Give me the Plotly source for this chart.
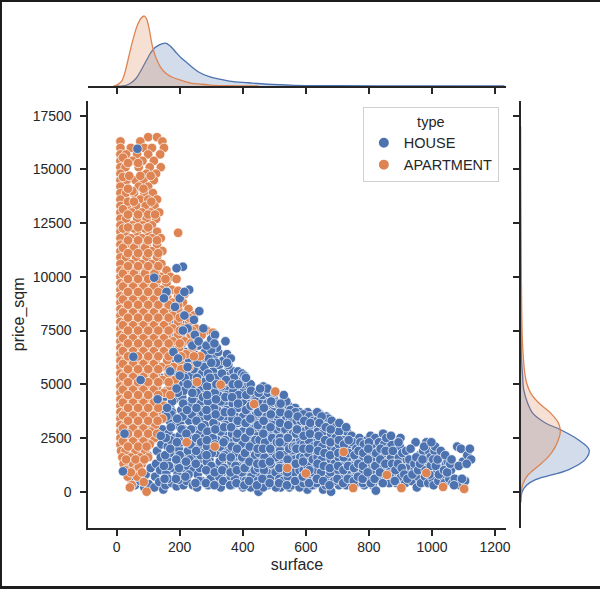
import plotly.graph_objects as go

# ---------------- data ----------------
x_tick_values = [0, 200, 400, 600, 800, 1000, 1200]
x_tick_labels = ["0", "200", "400", "600", "800", "1000", "1200"]
y_tick_values = [0, 2500, 5000, 7500, 10000, 12500, 15000, 17500]
y_tick_labels = ["0", "2500", "5000", "7500", "10000", "12500", "15000", "17500"]

# HOUSE points (surface, price_sqm) drawn beneath the apartments
house_points = [
    (18, 2700), (22, 950), (35, 1100), (45, 600), (52, 1500), (58, 300), (62, 900), (68, 2000), (75, 500),
    (80, 1300), (88, 200), (92, 800), (98, 1700), (102, 350), (108, 1100), (112, 2400), (60, 3300), (95, 3000),
    (105, 4200),
    (120, 200), (122, 700), (125, 1300), (128, 1900), (130, 2600), (132, 3300), (135, 450), (138, 1000),
    (140, 1600), (142, 2200), (145, 2900), (148, 3600), (150, 4400), (126, 4800), (140, 5300), (135, 7600),
    (145, 6700), (148, 100),
    (155, 300), (158, 900), (160, 1500), (162, 2100), (165, 2700), (168, 3300), (170, 3900), (172, 4500),
    (175, 5100), (178, 5800), (165, 7300), (182, 7900), (175, 400), (178, 1100), (180, 1800),
    (183, 2500), (185, 3100), (176, 3700), (184, 4300), (186, 4900),
    (190, 250), (193, 800), (195, 1400), (197, 2000), (200, 2600), (202, 3200), (205, 3800), (208, 4400),
    (210, 5000), (212, 5600), (205, 6800), (212, 300), (214, 1100),
    (216, 1700), (218, 2300), (212, 2900), (215, 3500), (218, 4100),
    (222, 500), (224, 1200), (226, 1900), (228, 2600), (230, 3300), (232, 4000), (234, 4700), (236, 5400),
    (238, 6100), (242, 300), (244, 1000), (246, 1600), (240, 2200),
    (243, 2900), (245, 3600), (247, 4300), (248, 5000), (250, 5700),
    (255, 200), (257, 800), (259, 1400), (261, 2000), (263, 2700), (265, 3400), (267, 4100), (269, 4800),
    (271, 5500), (273, 6200), (270, 500), (272, 1100), (276, 1800), (278, 2500),
    (280, 3100), (277, 3800), (280, 4500), (282, 5200), (284, 5900),
    (290, 300), (292, 900), (294, 1500), (296, 2100), (298, 2800), (300, 3500), (302, 4200), (304, 4900),
    (306, 5600), (308, 6300), (315, 400), (317, 1100), (318, 1800), (320, 2400),
    (316, 3100), (319, 3800), (322, 4500), (320, 5200), (325, 5900), (322, 6500),
    (330, 200), (332, 800), (334, 1400), (336, 2000), (338, 2700), (340, 3400), (342, 4100), (344, 4800),
    (346, 5500), (338, 6100), (350, 6400), (348, 500), (352, 1100), (354, 1800), (356, 2400), (358, 3100),
    (352, 3800), (356, 4400), (360, 5100), (355, 5800), (362, 6200), (345, 7000),
    (365, 300), (368, 900), (370, 1500), (372, 2100), (374, 2800), (376, 3500), (378, 4200), (380, 4800),
    (382, 5300), (385, 600), (387, 1200), (389, 1900), (391, 2500), (393, 3200), (388, 3900), (392, 4500),
    (395, 5200), (370, 5600), (385, 5600),
    (400, 200), (402, 900), (404, 1500), (406, 2200), (408, 2900), (410, 3500), (412, 4100), (404, 4700),
    (398, 5500), (405, 5400), (415, 400), (418, 1100), (420, 1700), (422, 2400), (424, 3000), (426, 3600),
    (420, 4200), (428, 4500), (430, 700), (432, 1300), (434, 2000), (428, 2700), (436, 3300), (432, 3900),
    (440, 200), (442, 800), (444, 1500), (446, 2100), (448, 2700), (450, 3300), (452, 3900), (454, 4400),
    (450, 0), (456, 500), (458, 1100), (460, 1800), (462, 2400), (464, 3000), (466, 3600), (460, 4200),
    (468, 4700), (470, 800), (472, 1400), (474, 2100), (476, 2700), (470, 3300), (478, 3900), (475, 4400),
    (480, 300), (482, 1000), (484, 1600), (486, 2200), (488, 2800), (490, 3400), (485, 4000), (492, 4500),
    (495, 600), (497, 1200), (499, 1900), (501, 2500), (503, 3100), (500, 3700), (505, 4200), (508, 300),
    (510, 900), (512, 1500), (506, 2100), (510, 2700), (512, 3300), (515, 3900),
    (520, 200), (522, 800), (524, 1400), (526, 2000), (528, 2600), (530, 3200), (525, 3700), (532, 4300),
    (535, 500), (537, 1100), (539, 1700), (541, 2300), (543, 2900), (540, 3500), (545, 4000), (548, 200),
    (550, 900), (552, 1500), (546, 2100), (550, 2700), (553, 3200),
    (556, 600), (558, 1200), (560, 1800), (562, 2400), (564, 3000), (560, 3600), (566, 3900), (570, 300),
    (572, 900), (574, 1500), (576, 2100), (578, 2700), (574, 3300), (580, 3700), (585, 600), (587, 1200),
    (589, 1800), (582, 2400), (590, 3000), (588, 3500),
    (595, 300), (598, 900), (600, 1500), (602, 2100), (604, 2700), (600, 3200), (606, 3700), (605, 100),
    (612, 600), (614, 1200), (616, 1800), (618, 2400), (620, 3000), (615, 3500), (625, 300), (627, 900),
    (629, 1500), (631, 2100), (633, 2700), (630, 3400), (628, 3600),
    (640, 600), (642, 1200), (644, 1800), (646, 2400), (640, 3000), (648, 3400), (645, 3600), (650, 300),
    (655, 100), (656, 900), (658, 1500), (660, 2100), (662, 2700), (658, 3200), (665, 3500), (668, 600),
    (670, 1200), (672, 1800), (670, 2400), (675, 3000), (672, 3400),
    (680, 0), (682, 400), (684, 1000), (686, 1600), (688, 2200), (690, 2800), (685, 3200), (695, 700),
    (697, 1300), (699, 1900), (701, 2500), (700, 3100), (705, 300), (708, 900), (710, 1500), (712, 2100),
    (708, 2700), (715, 2900),
    (720, 600), (722, 1200), (724, 1800), (726, 2400), (730, 2800), (735, 300), (737, 900), (739, 1500),
    (741, 2100), (745, 2600), (748, 700), (750, 1300), (752, 1900), (755, 2300),
    (762, 400), (764, 1000), (766, 1600), (768, 2200), (770, 2500), (775, 700), (777, 1300), (779, 1900),
    (785, 300), (787, 900), (789, 1500), (791, 2100), (795, 2400), (798, 600), (800, 1200), (802, 1800),
    (805, 2600),
    (812, 300), (814, 900), (816, 1500), (818, 2100), (820, 2500), (822, 50), (825, 700), (828, 1300),
    (830, 1900), (832, 2300), (838, 500), (840, 1100), (842, 1700), (845, 2700), (848, 2200), (850, 800),
    (860, 1400), (862, 2000), (865, 400), (868, 1000), (870, 1600), (872, 2200), (878, 700), (880, 1300),
    (885, 1900), (888, 400), (890, 1000), (895, 1600), (898, 2100), (900, 2500), (902, 700),
    (910, 1200), (915, 400), (920, 1500), (925, 900), (930, 1200), (935, 500), (940, 1500), (945, 1000),
    (948, 2300), (952, 200), (955, 700), (958, 1300), (960, 1700),
    (965, 400), (968, 1000), (972, 1900), (975, 1400), (978, 700), (982, 2300), (985, 1100), (988, 400),
    (990, 1900), (995, 1600), (1000, 1200), (1002, 600), (1005, 300), (1008, 1900), (1010, 2100),
    (1015, 900), (1020, 500), (1025, 1300), (1030, 1100), (1035, 700), (1040, 400), (1045, 1300),
    (1050, 1400), (1055, 600), (1060, 1000), (1065, 400), (1072, 600), (1080, 2100), (1088, 300),
    (1092, 2000), (1098, 1400), (1105, 500), (1112, 1700), (1120, 2000), (1124, 1500),
]

# more HOUSE points filling the dense part of the cloud
house_fill_points = [
    (163, 600), (166, 1200), (168, 1800), (170, 2400), (172, 3000), (174, 3600), (176, 4200), (178, 4800),
    (180, 5400), (168, 6000), (172, 6800), (178, 7600), (190, 7300), (188, 8200), (185, 6200),
    (196, 550), (198, 1100), (200, 1700), (203, 2300), (206, 2900), (209, 3500), (211, 4100), (213, 4700),
    (216, 5300), (218, 5900), (220, 6500), (208, 7100), (218, 7800), (205, 8300),
    (228, 800), (231, 1500), (234, 2200), (236, 2900), (238, 3600), (240, 4300), (242, 5000), (244, 5700),
    (246, 6400), (250, 7000), (235, 7900), (252, 2500), (253, 3300), (254, 4600),
    (262, 500), (264, 1100), (266, 1700), (268, 2300), (270, 3000), (272, 3700), (274, 4400), (276, 5100),
    (278, 5800), (280, 6500), (268, 7300), (286, 1400), (287, 2100), (288, 2800), (289, 3500), (290, 4200),
    (287, 4900), (290, 5500), (292, 6200),
    (298, 600), (300, 1200), (302, 1800), (305, 2500), (307, 3200), (309, 3900), (311, 4600), (313, 5300),
    (315, 6000), (318, 6700), (325, 700), (327, 1400), (328, 2100), (330, 2800), (328, 3500), (330, 4200),
    (332, 4900), (334, 5500),
    (338, 500), (340, 1100), (342, 1700), (344, 2400), (346, 3100), (348, 3800), (350, 4500), (352, 5200),
    (354, 5900), (362, 700), (364, 1400), (365, 2100), (366, 2700), (367, 3400), (368, 4100), (370, 4700),
    (372, 5300),
    (375, 600), (377, 1200), (379, 1800), (381, 2500), (383, 3200), (385, 3900), (387, 4500), (396, 300),
    (397, 900), (398, 1600), (399, 2200), (400, 2800), (401, 3500), (402, 4100), (400, 5000),
    (409, 500), (411, 1200), (413, 1900), (415, 2600), (417, 3300), (419, 3900), (414, 4500), (418, 5000),
    (425, 200), (427, 700), (438, 1000), (439, 1700), (440, 2400), (441, 3000), (442, 3600), (440, 4200),
    (425, 5000), (410, 5300),
    (447, 500), (449, 1100), (451, 1800), (453, 2400), (455, 3000), (457, 3600), (459, 4100), (462, 4500),
    (465, 200), (467, 1000), (469, 1600), (471, 2300), (473, 2900), (475, 3500), (477, 4100), (480, 4600),
    (465, 4900), (478, 4800),
    (487, 600), (489, 1300), (491, 1900), (493, 2500), (495, 3100), (497, 3700), (499, 4300), (502, 4600),
    (505, 200), (504, 900), (506, 1600), (508, 2300), (509, 2900), (511, 3600), (513, 4100), (516, 600),
    (518, 1200), (518, 1900), (518, 2500), (519, 3000),
    (527, 500), (529, 1100), (531, 1700), (533, 2300), (535, 2900), (537, 3500), (538, 4200), (530, 4500),
    (543, 700), (545, 1400), (547, 2000), (548, 2600), (549, 3300), (551, 3800), (555, 300), (557, 1500),
    (559, 2100), (559, 2700), (557, 3300),
    (563, 900), (565, 1500), (567, 2100), (569, 2700), (571, 3300), (567, 3700), (580, 200), (580, 1000),
    (582, 1600), (583, 2200), (584, 2800), (584, 3300), (592, 400), (593, 1000), (594, 1600), (594, 2200),
    (595, 2800), (592, 3600),
    (603, 600), (605, 1200), (607, 1800), (609, 2400), (610, 3000), (611, 3500), (620, 300), (621, 900),
    (622, 1500), (624, 2100), (625, 2700), (623, 3300), (634, 400), (636, 1000), (637, 1600), (638, 2200),
    (638, 2800), (636, 3300), (636, 3700), (650, 3500),
    (648, 900), (650, 1500), (652, 2100), (654, 2700), (652, 3100), (663, 300), (664, 1200), (666, 1800),
    (667, 2400), (668, 3000), (677, 400), (678, 900), (679, 1500), (680, 2100), (680, 2700), (682, 3300),
    (690, 500), (691, 1300), (693, 1900), (694, 2500), (694, 3000), (703, 1000), (704, 1600), (705, 2200),
    (705, 2800), (714, 600), (715, 1200), (716, 1800), (717, 2400), (706, 3200),
    (728, 300), (729, 900), (730, 1500), (732, 2100), (728, 3000), (742, 600), (744, 1200), (745, 1800),
    (748, 2300), (757, 400), (758, 1000), (759, 1600), (760, 2000),
    (770, 700), (771, 1300), (772, 1900), (773, 2300), (781, 400), (782, 1000), (783, 1600), (784, 2200),
    (792, 600), (793, 1200), (794, 1800), (800, 2300), (806, 400), (808, 1000), (808, 1500),
    (818, 600), (820, 1200), (822, 1800), (835, 900), (836, 1500), (837, 2000), (844, 400), (852, 1300),
    (853, 1900), (855, 2500),
    (866, 800), (870, 2600), (874, 1300), (876, 1900), (882, 500), (884, 1000), (892, 1300), (894, 2300),
    (904, 1100), (906, 1800),
    (912, 800), (918, 1900), (922, 600), (928, 1500), (932, 2000), (938, 800), (944, 1300), (950, 1600),
    (956, 1000), (962, 1300),
    (970, 1500), (975, 2100), (980, 1000), (992, 800), (996, 1200), (998, 2300), (1004, 1500), (1012, 1200),
    (1018, 1500), (1022, 800), (1028, 1900), (1038, 1000), (1042, 1700), (1048, 900), (1058, 1300),
    (1062, 1500), (1070, 300), (1085, 1200), (1095, 600), (1110, 1300),
]

# a third set of HOUSE points in the densest band
house_core_points = [
    (152, 600), (154, 1700), (156, 2500), (158, 3500), (160, 4700), (164, 5500), (188, 600), (189, 1500),
    (191, 2300), (192, 3400), (194, 4600), (196, 5700), (199, 6600), (187, 7000),
    (218, 700), (220, 1400), (221, 2700), (223, 3800), (225, 5000), (227, 6200), (229, 7000), (250, 400),
    (251, 1300), (252, 1900), (253, 3900), (255, 5300), (256, 6000), (258, 6800),
    (283, 400), (284, 1000), (285, 1700), (286, 2400), (285, 3800), (287, 4500), (296, 5300), (300, 6000),
    (300, 6600), (310, 300), (311, 900), (312, 2200), (313, 2900), (314, 3600), (315, 4300), (316, 5000),
    (305, 7200),
    (335, 1000), (337, 1600), (339, 2300), (341, 3000), (343, 3700), (345, 4400), (347, 5200), (350, 6000),
    (360, 300), (361, 900), (362, 1600), (363, 3000), (364, 3700), (366, 4400), (368, 5000), (380, 400),
    (381, 1000), (382, 2000), (383, 2700), (384, 3300), (385, 4100), (386, 5000),
    (405, 300), (406, 1100), (407, 1800), (408, 2500), (409, 3200), (410, 3800), (411, 4500), (420, 500),
    (421, 1400), (422, 2100), (423, 2800), (424, 3400), (425, 4000), (426, 4700), (445, 300), (446, 1300),
    (447, 2000), (448, 3100), (449, 3700), (450, 4600), (455, 4800), (462, 600), (463, 1300), (464, 2000),
    (465, 2700), (466, 3300), (467, 3900),
    (485, 400), (486, 1400), (487, 2000), (488, 3000), (489, 3600), (490, 4200), (515, 400), (516, 1100),
    (517, 1700), (517, 2300), (518, 3200), (519, 3700), (520, 4100), (540, 300), (541, 900), (542, 1500),
    (543, 2500), (544, 3100), (545, 3600),
    (566, 500), (568, 1300), (570, 2000), (572, 2900), (574, 3500), (590, 700), (591, 1400), (592, 2000),
    (593, 2600), (595, 3300), (610, 400), (611, 1000), (612, 2000), (613, 2700), (614, 3200), (635, 600),
    (637, 1300), (639, 1900), (641, 2600), (643, 3200), (655, 500), (657, 1200), (659, 1800), (661, 2400),
    (663, 3000), (675, 300), (676, 1100), (677, 1700), (678, 2300), (679, 2900),
    (700, 600), (702, 1200), (703, 1800), (705, 2400), (718, 400), (719, 1000), (720, 1600), (721, 2200),
    (733, 600), (734, 1200), (735, 1800), (736, 2400), (752, 500), (753, 1100), (754, 1700), (765, 700),
    (766, 1300), (767, 1900), (780, 600), (781, 1200), (782, 1800), (796, 900), (797, 1500), (798, 2000),
]

# HOUSE points that sit on top of the apartment cloud
house_front_points = [
    (66, 15960), (119, 9960), (210, 10470), (190, 10400), (53, 6280), (76, 5200), (158, 9300), (230, 9400),
    (200, 9000), (215, 9300), (225, 7600), (245, 8000), (240, 6800), (248, 7300), (260, 7000), (262, 8400),
    (275, 7600), (285, 6800), (300, 7100), (312, 7300), (310, 6900), (180, 6500), (195, 6200), (210, 7500),
    (215, 8200), (185, 8600), (150, 9000), (170, 5600), (190, 4800), (160, 3900), (140, 2600), (25, 2700),
    (20, 950), (130, 4300), (200, 5400), (225, 5800), (240, 4600), (150, 1200), (170, 2000),
]

# APARTMENT points (surface, price_sqm)
apartment_points = [
    (100, 16500), (128, 16500),
    (12, 16300), (75, 16300), (145, 16300),
    (12, 16000), (45, 16000), (88, 16000), (112, 16000), (150, 16000),
    (12, 15700), (30, 15700), (65, 15700), (100, 15700), (138, 15700),
    (12, 15400), (50, 15400), (82, 15400), (118, 15400),
    (12, 15100), (28, 15100), (70, 15100), (105, 15100), (140, 15100),
    (12, 14800), (95, 14800), (125, 14800),
    (12, 14500), (32, 14500), (60, 14500), (85, 14500), (118, 14500),
    (12, 14200), (70, 14200), (100, 14200),
    (12, 13900), (30, 13900), (55, 13900), (88, 13900), (115, 13900),
    (12, 13600), (75, 13600), (100, 13600), (128, 13600),
    (12, 13300), (35, 13300), (62, 13300), (92, 13300), (120, 13300),
    (12, 13000), (48, 13000), (80, 13000), (108, 13000), (135, 13000),
    (12, 12700), (30, 12700), (65, 12700), (95, 12700), (125, 12700),
    (12, 12400), (50, 12400), (82, 12400), (112, 12400),
    (12, 12100), (28, 12100), (65, 12100), (98, 12100), (128, 12100), (195, 12050),
    (12, 11800), (45, 11800), (80, 11800), (112, 11800), (140, 11800),
    (12, 11500), (30, 11500), (62, 11500), (95, 11500), (128, 11500),
    (12, 11200), (48, 11200), (80, 11200), (110, 11200), (145, 11200),
    (12, 10900), (30, 10900), (62, 10900), (95, 10900), (128, 10900),
    (12, 10600), (45, 10600), (78, 10600), (110, 10600), (142, 10600),
    (12, 10300), (28, 10300), (60, 10300), (92, 10300), (125, 10300), (158, 10300),
    (12, 10000), (45, 10000), (78, 10000), (110, 10000), (140, 10000), (170, 10000),
    (12, 9700), (28, 9700), (60, 9700), (92, 9700), (125, 9700), (158, 9700), (190, 9900),
    (12, 9400), (45, 9400), (78, 9400), (110, 9400), (142, 9400), (175, 9400), (215, 9200),
    (12, 9100), (28, 9100), (60, 9100), (92, 9100), (125, 9100), (160, 9100), (195, 9100),
    (12, 8800), (45, 8800), (78, 8800), (110, 8800), (142, 8800), (178, 8800), (210, 8800),
    (12, 8500), (28, 8500), (60, 8500), (92, 8500), (125, 8500), (160, 8500), (195, 8500), (228, 8500),
    (12, 8200), (45, 8200), (78, 8200), (110, 8200), (142, 8200), (178, 8200), (212, 8200), (245, 8200),
    (12, 7900), (28, 7900), (60, 7900), (92, 7900), (125, 7900), (160, 7900), (195, 7900), (230, 7900),
    (12, 7600), (45, 7600), (78, 7600), (110, 7600), (142, 7600), (178, 7600), (212, 7600), (250, 7600),
    (285, 7500),
    (12, 7300), (28, 7300), (60, 7300), (92, 7300), (125, 7300), (160, 7300), (195, 7300), (235, 7300),
    (270, 7300), (305, 7400),
    (12, 7000), (45, 7000), (78, 7000), (110, 7000), (142, 7000), (178, 7000), (215, 7000), (255, 7000),
    (12, 6700), (28, 6700), (60, 6700), (92, 6700), (125, 6700), (160, 6700), (198, 6700), (240, 6700),
    (12, 6400), (45, 6400), (78, 6400), (110, 6400), (142, 6400), (178, 6400), (220, 6400), (265, 6300),
    (12, 6100), (28, 6100), (60, 6100), (92, 6100), (125, 6100), (160, 6100), (200, 6100),
    (12, 5800), (45, 5800), (78, 5800), (110, 5800), (142, 5800), (180, 5800), (230, 5800),
    (12, 5500), (28, 5500), (60, 5500), (92, 5500), (125, 5500), (165, 5500),
    (12, 5200), (45, 5200), (78, 5200), (110, 5200), (145, 5200), (185, 5200), (255, 5100),
    (12, 4900), (28, 4900), (60, 4900), (92, 4900), (128, 4900), (170, 4900), (330, 4980),
    (12, 4600), (45, 4600), (78, 4600), (110, 4600), (150, 4600), (503, 4660),
    (12, 4300), (28, 4300), (60, 4300), (92, 4300), (130, 4300),
    (12, 4000), (45, 4000), (78, 4000), (112, 4000), (150, 4000), (436, 4080),
    (12, 3700), (28, 3700), (60, 3700), (92, 3700), (128, 3700),
    (12, 3400), (45, 3400), (78, 3400), (110, 3400), (145, 3400),
    (12, 3100), (28, 3100), (60, 3100), (92, 3100), (122, 3100),
    (12, 2800), (45, 2800), (78, 2800), (108, 2800),
    (12, 2500), (28, 2500), (60, 2500), (92, 2500), (120, 2500),
    (12, 2200), (45, 2200), (78, 2200), (105, 2200), (222, 2300),
    (14, 1900), (28, 1900), (60, 1900), (90, 1900), (311, 2100),
    (18, 1600), (45, 1600), (75, 1600), (100, 1600),
    (22, 1300), (52, 1300), (80, 1300),
    (28, 1000), (60, 1000), (70, 1150),
    (35, 700), (65, 700),
    (48, 310), (86, 450), (42, 200), (95, 0),
    (541, 1100), (600, 850), (720, 1850), (750, 170), (857, 780), (903, 170), (982, 870), (1035, 220),
    (1102, 130),
    # staggered fill rows inside the dense core
    (20, 10150), (55, 10150), (90, 10150), (120, 10150),
    (20, 9550), (52, 9550), (85, 9550), (118, 9550),
    (20, 8950), (52, 8950), (85, 8950), (118, 8950), (150, 8950),
    (20, 8350), (52, 8350), (85, 8350), (118, 8350), (150, 8350),
    (20, 7750), (52, 7750), (85, 7750), (118, 7750), (150, 7750),
    (20, 7150), (52, 7150), (85, 7150), (118, 7150), (150, 7150),
    (20, 6550), (52, 6550), (85, 6550), (118, 6550), (150, 6550),
    (20, 5950), (52, 5950), (85, 5950), (118, 5950),
    (20, 5350), (52, 5350), (85, 5350), (118, 5350),
    (20, 4750), (52, 4750), (85, 4750), (118, 4750),
    (20, 4150), (52, 4150), (85, 4150), (118, 4150),
    (20, 3550), (52, 3550), (85, 3550), (118, 3550),
    (20, 2950), (52, 2950), (85, 2950),
    (20, 2350), (52, 2350), (85, 2350),
    (20, 11350), (55, 11350), (90, 11350),
    (20, 12250), (55, 12250), (90, 12250),
    (20, 13150), (50, 14000), (20, 14650), (20, 15550),
    # a further layer of the dense core
    (36, 15300), (68, 15300), (40, 14700), (75, 14700), (108, 14700), (36, 14100), (85, 14100),
    (36, 13500), (55, 13500), (110, 13500), (36, 12900), (68, 12900), (100, 12900), (122, 12900),
    (36, 12300), (68, 12300), (100, 12300), (36, 11700), (68, 11700), (100, 11700), (128, 11700),
    (36, 11100), (68, 11100), (100, 11100), (132, 11100), (36, 10500), (68, 10500), (100, 10500), (132, 10500),
    (36, 9900), (68, 9900), (100, 9900), (132, 9900), (155, 9900),
    (36, 9300), (68, 9300), (100, 9300), (132, 9300), (160, 9300), (195, 9350),
    (36, 8700), (68, 8700), (100, 8700), (132, 8700), (165, 8700), (195, 8700),
    (36, 8100), (68, 8100), (100, 8100), (132, 8100), (165, 8100), (200, 8100), (230, 8100),
    (36, 7500), (68, 7500), (100, 7500), (132, 7500), (165, 7500), (200, 7500), (240, 7500),
    (36, 6900), (68, 6900), (100, 6900), (132, 6900), (165, 6900), (200, 6900), (235, 6900),
    (36, 6300), (68, 6300), (100, 6300), (132, 6300), (165, 6300), (205, 6300), (245, 6300),
    (36, 5700), (68, 5700), (100, 5700), (132, 5700), (165, 5700), (205, 5700),
    (36, 5100), (68, 5100), (100, 5100), (132, 5100), (165, 5100),
    (36, 4500), (68, 4500), (100, 4500), (132, 4500), (170, 4500),
    (36, 3900), (68, 3900), (100, 3900), (132, 3900),
    (36, 3300), (68, 3300), (100, 3300), (130, 3300),
    (36, 2700), (68, 2700), (100, 2700), (128, 2700),
    (36, 2100), (68, 2100), (95, 2100),
    (30, 1500), (60, 1500), (88, 1500),
    (45, 900), (80, 900),
]

# marginal KDE curves, density in units of 1e-5
house_surface_grid = [0, 20, 40, 60, 78, 95, 114, 135, 155, 170, 187, 205, 224, 260, 296, 357, 418, 477, 562,
                      700, 900, 1100, 1230]
house_surface_density = [0, 0, 15, 52, 119, 193, 267, 305, 319, 297, 253, 208, 171, 104, 67, 37, 24, 13, 5,
                         2, 1, 0.5, 0.2]
apartment_surface_grid = [-10, 0, 10, 18, 30, 41, 55, 66, 78, 88, 95, 102, 114, 125, 139, 155, 175, 200, 235,
                          270, 296, 350, 450]
apartment_surface_density = [0, 7, 22, 45, 134, 245, 372, 453, 505, 520, 498, 438, 290, 208, 141, 97, 67, 45,
                             22, 13, 7, 3, 0.7]

house_price_grid = [-500, 0, 300, 560, 1020, 1490, 1950, 2420, 2890, 3200, 3670, 4140, 4750, 5500, 6300, 8000,
                    10000]
house_price_density = [0, 0.63, 2.5, 6.3, 20.2, 27.3, 29.0, 24.4, 16.8, 10.5, 5.0, 2.9, 1.3, 0.76, 0.3, 0.13,
                       0.04]
apartment_price_grid = [-500, 0, 330, 745, 1160, 1630, 2100, 2560, 2800, 3200, 3670, 4140, 4600, 5070, 5540,
                        6300, 7070, 8600, 10900, 12500, 14000, 15600, 17000]
apartment_price_density = [0, 0.21, 0.84, 2.9, 7.1, 11.8, 14.7, 16.4, 16.8, 16.0, 12.6, 7.6, 4.2, 2.5, 1.7, 1.1,
                           0.71, 0.42, 0.25, 0.17, 0.08, 0.04, 0.01]

# ---------------- styling ----------------
W, H = 605, 589
BLUE = "#4c72b0"
ORANGE = "#dd8452"
BLUE_FILL = "rgba(76,114,176,0.25)"
ORANGE_FILL = "rgba(221,132,82,0.25)"
AX = "#262626"
FONT = "Liberation Sans, Arial, sans-serif"


def fx(p):
    return p / W


def fy(p):
    return 1 - p / H


main_x = [fx(89), fx(510)]
main_y = [fy(527.7), fy(101)]
top_y = [fy(86), 1.0]
right_x = [fx(525), 1.0]

fig = go.Figure()

marker_base = dict(size=9.5, line=dict(color="white", width=0.7))

house_all = house_points + house_fill_points + house_core_points
fig.add_trace(go.Scatter(
    x=[p[0] for p in house_all], y=[p[1] for p in house_all], mode="markers", name="HOUSE",
    legendgroup="house", marker=dict(color=BLUE, **marker_base), xaxis="x", yaxis="y"))
fig.add_trace(go.Scatter(
    x=[p[0] for p in apartment_points], y=[p[1] for p in apartment_points], mode="markers", name="APARTMENT",
    legendgroup="apartment", marker=dict(color=ORANGE, **marker_base), xaxis="x", yaxis="y"))
fig.add_trace(go.Scatter(
    x=[p[0] for p in house_front_points], y=[p[1] for p in house_front_points], mode="markers", name="HOUSE",
    legendgroup="house", showlegend=False, marker=dict(color=BLUE, **marker_base), xaxis="x", yaxis="y"))

# top marginal
fig.add_trace(go.Scatter(x=house_surface_grid, y=house_surface_density, mode="lines", fill="tozeroy",
                         fillcolor=BLUE_FILL, line=dict(color=BLUE, width=1.3, shape="spline"),
                         showlegend=False, xaxis="x2", yaxis="y2", hoverinfo="skip"))
fig.add_trace(go.Scatter(x=apartment_surface_grid, y=apartment_surface_density, mode="lines", fill="tozeroy",
                         fillcolor=ORANGE_FILL, line=dict(color=ORANGE, width=1.3, shape="spline"),
                         showlegend=False, xaxis="x2", yaxis="y2", hoverinfo="skip"))
# right marginal
fig.add_trace(go.Scatter(x=house_price_density, y=house_price_grid, mode="lines", fill="tozerox",
                         fillcolor=BLUE_FILL, line=dict(color=BLUE, width=1.3, shape="spline"),
                         showlegend=False, xaxis="x3", yaxis="y3", hoverinfo="skip"))
fig.add_trace(go.Scatter(x=apartment_price_density, y=apartment_price_grid, mode="lines", fill="tozerox",
                         fillcolor=ORANGE_FILL, line=dict(color=ORANGE, width=1.3, shape="spline"),
                         showlegend=False, xaxis="x3", yaxis="y3", hoverinfo="skip"))

axis_common = dict(showline=True, linecolor=AX, linewidth=1.8, ticks="outside", ticklen=6, tickwidth=1.6,
                   tickcolor=AX, showgrid=False, zeroline=False)

fig.update_layout(
    width=W, height=H, margin=dict(l=0, r=0, t=0, b=0),
    paper_bgcolor="white", plot_bgcolor="rgba(0,0,0,0)",
    font=dict(family=FONT, color=AX),
    xaxis=dict(domain=main_x, range=[-90, 1234], anchor="y", tickvals=x_tick_values, ticktext=x_tick_labels,
               tickfont=dict(size=14), title=dict(text="surface", font=dict(size=16), standoff=4),
               **axis_common),
    yaxis=dict(domain=main_y, range=[-1675, 18184], anchor="x", tickvals=y_tick_values, ticktext=y_tick_labels,
               tickfont=dict(size=14), ticklabelstandoff=6,
               title=dict(text="price_sqm", font=dict(size=16), standoff=4),
               **axis_common),
    xaxis2=dict(domain=main_x, matches="x", anchor="y2", tickvals=x_tick_values, showticklabels=False,
                **axis_common),
    yaxis2=dict(domain=top_y, range=[0, 639], anchor="x2", visible=False),
    xaxis3=dict(domain=right_x, range=[0, 33.6], anchor="y3", visible=False),
    yaxis3=dict(domain=main_y, matches="y", anchor="x3", side="left", tickvals=y_tick_values,
                showticklabels=False, **axis_common),
    legend=dict(x=fx(503), y=fy(107), xanchor="right", yanchor="top", bgcolor="rgba(255,255,255,0.8)",
                bordercolor="#d0d0d0", borderwidth=1, font=dict(size=14.5, color=AX),
                title=dict(text="type", side="top center", font=dict(size=14.5, color=AX)),
                itemsizing="constant", tracegroupgap=0),
    shapes=[
        dict(type="rect", xref="paper", yref="paper", x0=0, x1=fx(2), y0=0, y1=1, fillcolor="#1c1c1c",
             line=dict(width=0), layer="above"),
        dict(type="rect", xref="paper", yref="paper", x0=0, x1=1, y0=fy(2), y1=1, fillcolor="#1c1c1c",
             line=dict(width=0), layer="above"),
        dict(type="rect", xref="paper", yref="paper", x0=0, x1=1, y0=0, y1=fy(586), fillcolor="#1c1c1c",
             line=dict(width=0), layer="above"),
    ],
)

fig.write_html("out.html", config={"displayModeBar": False},
               post_script="document.body.style.margin='0px';document.body.style.overflow='hidden';")
